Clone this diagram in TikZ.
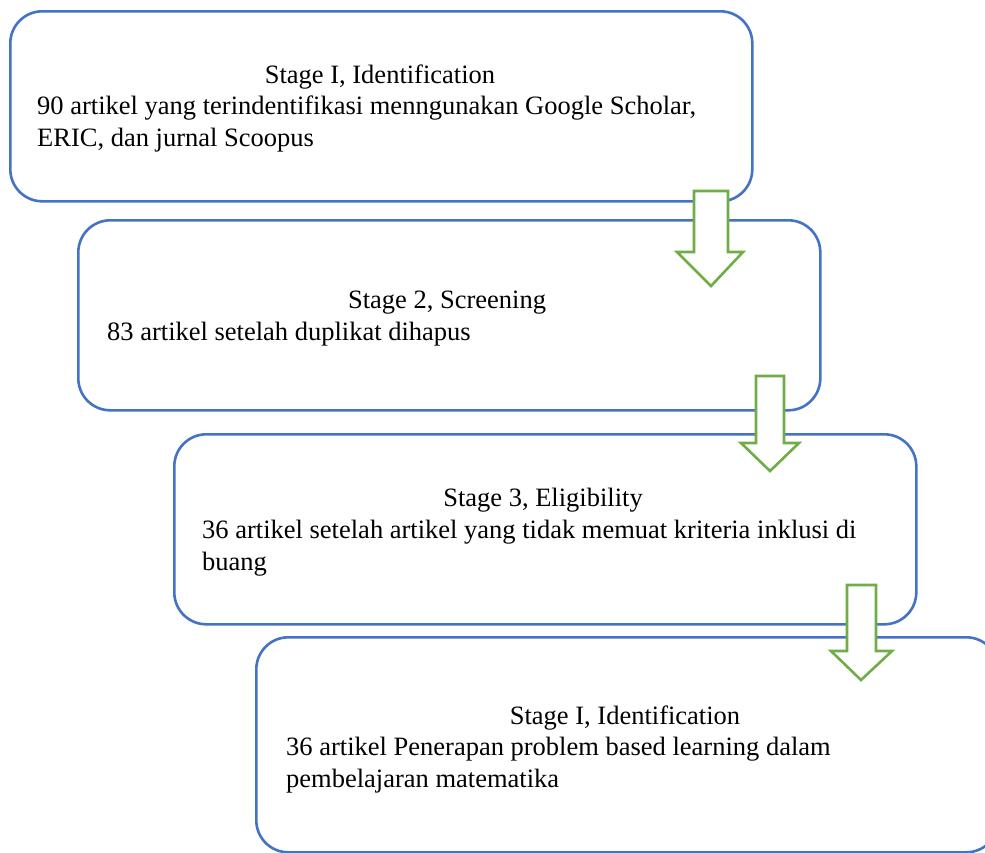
\documentclass[tikz,border=0pt]{standalone}
\usepackage{fontspec}
\setmainfont{Liberation Serif}
\definecolor{boxblue}{HTML}{4472C4}
\definecolor{arrgreen}{HTML}{70AD47}
\begin{document}
\begin{tikzpicture}[x=1pt,y=-1pt,
  stagebox/.style={draw=boxblue, line width=2.6pt, rounded corners=32pt, fill=white,
     anchor=north west, minimum width=742pt, minimum height=190pt, inner sep=0pt},
  txt/.style={font=\fontsize{26.5}{32}\selectfont, inner sep=0pt, anchor=base west},
  ttl/.style={font=\fontsize{26.5}{32}\selectfont, inner sep=0pt, anchor=base},
  blockarrow/.style={draw=arrgreen, line width=2.6pt, fill=white, line join=miter}]
\useasboundingbox[fill=white] (0,0) rectangle (985,852);
% boxes
\node[stagebox] (b1) at (9,10) {};
\node[stagebox] (b2) at (77,219) {};
\node[stagebox] (b3) at (173,433) {};
\node[stagebox, minimum height=215pt] (b4) at (255,636) {};
% texts
\node[ttl] (t1) at (380,83) {Stage I, Identification};
\node[txt] (d1a) at (37,114) {90 artikel yang terindentifikasi menngunakan Google Scholar,};
\node[txt] (d1b) at (37,146) {ERIC, dan jurnal Scoopus};
\node[ttl] (t2) at (447,308) {Stage 2, Screening};
\node[txt] (d2a) at (107,340) {83 artikel setelah duplikat dihapus};
\node[ttl] (t3) at (543,506) {Stage 3, Eligibility};
\node[txt] (d3a) at (202,538) {36 artikel setelah artikel yang tidak memuat kriteria inklusi di};
\node[txt] (d3b) at (202,570) {buang};
\node[ttl] (t4) at (625,724) {Stage I, Identification};
\node[txt] (d4a) at (286,755) {36 artikel Penerapan problem based learning dalam};
\node[txt] (d4b) at (286,787) {pembelajaran matematika};
% block arrows
\draw[blockarrow] (694,191) -- (728,191) -- (728,252) -- (743,252) -- (711,286)
   -- (677,252) -- (694,252) -- cycle;
\draw[blockarrow] (756,376) -- (784,376) -- (784,443) -- (799,443) -- (770,471)
   -- (741,443) -- (756,443) -- cycle;
\draw[blockarrow] (847,585) -- (876,585) -- (876,651) -- (892,651) -- (861,680)
   -- (831,651) -- (847,651) -- cycle;
\end{tikzpicture}
\end{document}
